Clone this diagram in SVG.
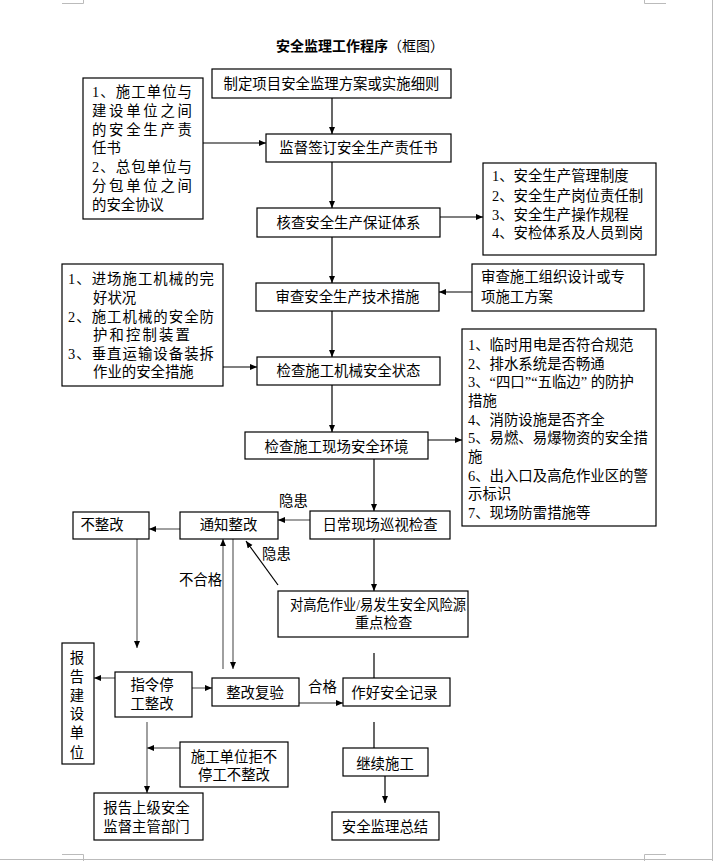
<svg xmlns="http://www.w3.org/2000/svg" width="713" height="861" viewBox="0 0 713 861">
<style>
text{font-family:"Liberation Serif","Noto Sans CJK SC",sans-serif;font-size:14.4px;fill:#000}
.c{text-anchor:middle}
.t{font-size:14px;font-weight:bold}
.nb{font-weight:normal}
rect{fill:#fff;stroke:#000;stroke-width:1.2}
.ln{stroke:#000;stroke-width:1.2;fill:none}
.g{stroke:#777;stroke-width:1.4;fill:none}
.pg{stroke:#bbb;stroke-width:1;fill:none}
</style>
<defs>
<marker id="ar" markerUnits="userSpaceOnUse" markerWidth="8" markerHeight="7" refX="7" refY="3" orient="auto">
<path d="M0,0 L7,3 L0,6 z" fill="#000"/>
</marker>
</defs>
<rect x="0" y="0" width="713" height="861" style="fill:#fff;stroke:none"/>
<g id="page-marks">
<path class="pg" d="M62,3.5 H83.5 V0 M644.5,0 V3.5 H666 M62,854.5 H83.5 V861 M644.5,861 V854.5 H666 M0,859.5 H713 M712.5,0 V861"/>
</g>
<text class="c t" x="360" y="51">安全监理工作程序<tspan class="nb">（框图）</tspan></text>

<g id="connectors">
<path class="ln" d="M332,98 V134" marker-end="url(#ar)"/>
<path class="ln" d="M203,143 H266" marker-end="url(#ar)"/>
<path class="ln" d="M332,162 V208" marker-end="url(#ar)"/>
<path class="ln" d="M440,217 H483" marker-end="url(#ar)"/>
<path class="ln" d="M332,237 V283" marker-end="url(#ar)"/>
<path class="ln" d="M472,292 H439" marker-end="url(#ar)"/>
<path class="ln" d="M223,367 H257" marker-end="url(#ar)"/>
<path class="ln" d="M332,311 V357" marker-end="url(#ar)"/>
<path class="ln" d="M332,385 V432" marker-end="url(#ar)"/>
<path class="ln" d="M428,440 H462" marker-end="url(#ar)"/>
<path class="ln" d="M374,459 V511" marker-end="url(#ar)"/>
<path class="g" d="M310,520 H278" marker-end="url(#ar)"/>
<path class="g" d="M180,529 H149" marker-end="url(#ar)"/>
<path class="g" d="M137,539 V648" marker-end="url(#ar)"/>
<path class="g" d="M223,669 V539" marker-end="url(#ar)"/>
<path class="g" d="M233,539 V669" marker-end="url(#ar)"/>
<path class="ln" d="M278,585 L246,541" stroke-width="1" marker-end="url(#ar)"/>
<path class="ln" d="M374,539 V591" marker-end="url(#ar)"/>
<path class="ln" d="M374,653 V678"/>
<path class="g" d="M299,703 H343" marker-end="url(#ar)"/>
<path class="g" d="M192,688 H212" marker-end="url(#ar)"/>
<path class="g" d="M115,678 H94" marker-end="url(#ar)"/>
<path class="g" d="M147,722 V793" marker-end="url(#ar)"/>
<path class="g" d="M180,748 H147" marker-end="url(#ar)"/>
<path class="ln" d="M374,722 V748"/>
<path class="ln" d="M385,776 V803" marker-end="url(#ar)"/>
<text class="c" x="293.5" y="506">隐患</text>
<text class="c" x="200.5" y="585">不合格</text>
<text class="c" x="276.5" y="559">隐患</text>
<text class="c" x="322.5" y="692">合格</text>
</g>

<g id="n-plan">
<rect x="212" y="69" width="239" height="29"/>
<text class="c" x="331.5" y="88.5">制定项目安全监理方案或实施细则</text>
</g>
<g id="n-sign">
<rect x="266" y="134" width="185" height="28"/>
<text class="c" x="358.5" y="153">监督签订安全生产责任书</text>
</g>
<g id="n-resp">
<rect x="83" y="78" width="120" height="141"/>
<text x="92" y="97" textLength="100" lengthAdjust="spacing">1、施工单位与</text>
<text x="92" y="115.8" textLength="100" lengthAdjust="spacing">建设单位之间</text>
<text x="92" y="134.6" textLength="100" lengthAdjust="spacing">的安全生产责</text>
<text x="92" y="153.4">任书</text>
<text x="92" y="172.2" textLength="100" lengthAdjust="spacing">2、总包单位与</text>
<text x="92" y="191" textLength="100" lengthAdjust="spacing">分包单位之间</text>
<text x="92" y="209.8">的安全协议</text>
</g>
<g id="n-system">
<rect x="257" y="208" width="183" height="29"/>
<text class="c" x="348.5" y="227.5">核查安全生产保证体系</text>
</g>
<g id="n-system-list">
<rect x="483" y="163" width="173" height="92"/>
<text x="492" y="181">1、安全生产管理制度</text>
<text x="492" y="201">2、安全生产岗位责任制</text>
<text x="492" y="220">3、安全生产操作规程</text>
<text x="492" y="238">4、安检体系及人员到岗</text>
</g>
<g id="n-tech">
<rect x="256" y="283" width="183" height="28"/>
<text class="c" x="347.5" y="302">审查安全生产技术措施</text>
</g>
<g id="n-design">
<rect x="472" y="264" width="172" height="47"/>
<text x="481" y="282">审查施工组织设计或专</text>
<text x="481" y="302">项施工方案</text>
</g>
<g id="n-machine-list">
<rect x="62" y="264" width="161" height="122"/>
<text x="68" y="284" textLength="146" lengthAdjust="spacing">1、进场施工机械的完</text>
<text x="93" y="303">好状况</text>
<text x="68" y="322" textLength="146" lengthAdjust="spacing">2、施工机械的安全防</text>
<text x="93" y="340" textLength="97" lengthAdjust="spacing">护和控制装置</text>
<text x="68" y="359" textLength="146" lengthAdjust="spacing">3、垂直运输设备装拆</text>
<text x="93" y="377">作业的安全措施</text>
</g>
<g id="n-machine">
<rect x="257" y="357" width="183" height="28"/>
<text class="c" x="348.5" y="376">检查施工机械安全状态</text>
</g>
<g id="n-site">
<rect x="245" y="432" width="183" height="27"/>
<text class="c" x="336.5" y="452">检查施工现场安全环境</text>
</g>
<g id="n-site-list">
<rect x="462" y="329" width="194" height="197"/>
<text x="468" y="350">1、临时用电是否符合规范</text>
<text x="468" y="368.7">2、排水系统是否畅通</text>
<text x="468" y="387.3">3、“四口”“五临边” 的防护</text>
<text x="468" y="406">措施</text>
<text x="468" y="424.6">4、消防设施是否齐全</text>
<text x="468" y="443.3">5、易燃、易爆物资的安全措</text>
<text x="468" y="461.9">施</text>
<text x="468" y="480.6">6、出入口及高危作业区的警</text>
<text x="468" y="499.2">示标识</text>
<text x="468" y="517.9">7、现场防雷措施等</text>
</g>
<g id="n-patrol">
<rect x="310" y="511" width="140" height="28"/>
<text class="c" x="380" y="530">日常现场巡视检查</text>
</g>
<g id="n-notice">
<rect x="180" y="512" width="98" height="27"/>
<text class="c" x="228.5" y="530">通知整改</text>
</g>
<g id="n-refuse">
<rect x="73" y="512" width="76" height="27"/>
<text class="c" x="102" y="530">不整改</text>
</g>
<g id="n-focus">
<rect x="278" y="591" width="190" height="46"/>
<text x="290" y="610" textLength="176" lengthAdjust="spacingAndGlyphs">对高危作业/易发生安全风险源</text>
<text class="c" x="383.5" y="628">重点检查</text>
</g>
<g id="n-record">
<rect x="343" y="678" width="107" height="28"/>
<text class="c" x="394.5" y="698">作好安全记录</text>
</g>
<g id="n-recheck">
<rect x="212" y="678" width="87" height="28"/>
<text class="c" x="255" y="698">整改复验</text>
</g>
<g id="n-stop">
<rect x="115" y="672" width="77" height="45"/>
<text class="c" x="152" y="690">指令停</text>
<text class="c" x="152" y="709">工整改</text>
</g>
<g id="n-report-owner">
<rect x="62" y="643" width="32" height="121"/>
<text class="c" x="77" y="663">报</text>
<text class="c" x="77" y="682">告</text>
<text class="c" x="77" y="701">建</text>
<text class="c" x="77" y="719">设</text>
<text class="c" x="77" y="738">单</text>
<text class="c" x="77" y="758">位</text>
</g>
<g id="n-reject">
<rect x="180" y="742" width="108" height="45"/>
<text class="c" x="234" y="762">施工单位拒不</text>
<text class="c" x="234" y="780">停工不整改</text>
</g>
<g id="n-report-upper">
<rect x="94" y="793" width="109" height="47"/>
<text class="c" x="146.5" y="813">报告上级安全</text>
<text class="c" x="146.5" y="832">监督主管部门</text>
</g>
<g id="n-continue">
<rect x="343" y="748" width="85" height="28"/>
<text class="c" x="385" y="769">继续施工</text>
</g>
<g id="n-summary">
<rect x="332" y="812" width="107" height="28"/>
<text class="c" x="385" y="832">安全监理总结</text>
</g>
</svg>
